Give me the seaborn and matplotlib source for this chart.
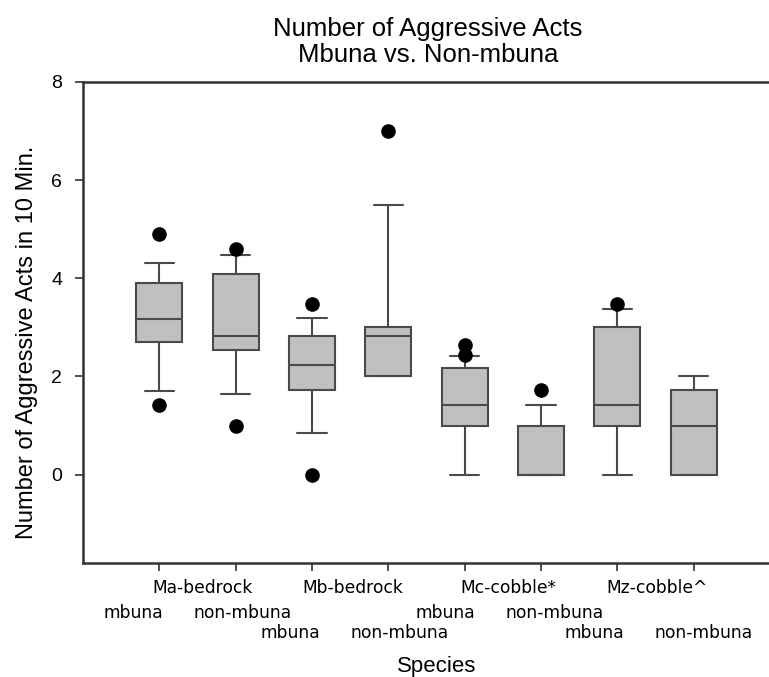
import pandas as pd
import seaborn as sns
import matplotlib
matplotlib.use('Agg')
import matplotlib.pyplot as plt

# 1. Data (aggressive acts per 10 min, per group; estimated from the figure)
groups = ['Ma-mbuna', 'Ma-non', 'Mb-mbuna', 'Mb-non',
          'Mc-mbuna', 'Mc-non', 'Mz-mbuna', 'Mz-non']

ma_mbuna = [1.41, 1.70, 2.60, 2.80, 3.00, 3.17, 3.50, 3.80, 4.00, 4.31, 4.91]
ma_non = [0.99, 1.65, 2.50, 2.58, 2.70, 2.83, 3.50, 4.00, 4.16, 4.48, 4.59]
mb_mbuna = [0.00, 0.84, 1.70, 1.76, 2.00, 2.24, 2.50, 2.80, 2.86, 3.19, 3.47]
mb_non = [2.00, 2.00, 2.00, 2.00, 2.50, 2.83, 2.90, 3.00, 3.00, 5.49, 7.00]
mc_mbuna = [0.00, 0.00, 0.00, 0.50, 0.80, 0.99, 1.10, 1.20, 1.30, 1.35, 1.41,
            1.60, 1.80, 1.90, 2.00, 2.17, 2.30, 2.40, 2.42, 2.44, 2.65]
mc_non = [0.00, 0.00, 0.00, 0.00, 0.00, 0.00, 0.50, 1.00, 1.00, 1.41, 1.73]
mz_mbuna = [0.00, 0.00, 0.98, 1.00, 1.20, 1.41, 2.00, 3.00, 3.00, 3.38, 3.48]
mz_non = [0.00, 0.00, 0.00, 0.00, 0.50, 1.00, 1.50, 1.70, 1.76, 2.00, 2.00]

values = [ma_mbuna, ma_non, mb_mbuna, mb_non, mc_mbuna, mc_non, mz_mbuna, mz_non]

species = ['Ma-bedrock', 'Mb-bedrock', 'Mc-cobble*', 'Mz-cobble^']
type_row1 = ['mbuna', 'non-mbuna', 'mbuna', 'non-mbuna']
type_row2 = ['mbuna', 'non-mbuna', 'mbuna', 'non-mbuna']

df = pd.DataFrame({
    'group': [g for g, v in zip(groups, values) for _ in v],
    'acts': [x for v in values for x in v],
})

# 2. Figure (SigmaPlot-like box plot: whiskers at 10th/90th percentile)
sns.set_style('white')
plt.rcParams['font.family'] = ['Liberation Sans', 'DejaVu Sans']
plt.rcParams['text.color'] = 'black'
plt.rcParams['axes.labelcolor'] = 'black'

fig = plt.figure(figsize=(7.69, 6.77), dpi=100)
ax = fig.add_axes([83 / 769, 114 / 677, 687 / 769, 481 / 677])

edge = '#4a4a4a'
sns.boxplot(data=df, x='group', y='acts', order=groups, ax=ax,
            whis=(10, 90), width=0.6, color='#c0c0c0', saturation=1,
            linecolor=edge, linewidth=1.5, capwidths=0.38,
            flierprops=dict(marker='o', markerfacecolor='black',
                            markeredgecolor='black', markersize=9.5))

ax.set_xlim(-1, 8)
ax.set_ylim(-1.8, 8)
ax.set_yticks([0, 2, 4, 6, 8])
ax.set_xticks(range(len(groups)))
ax.set_xticklabels([''] * len(groups))
ax.tick_params(axis='both', direction='out', length=6, width=1.2,
               color='#333333', labelsize=14, pad=9, labelcolor='black',
               bottom=True, left=True)
for s in ax.spines.values():
    s.set_color('#333333')
    s.set_linewidth(1.8)

# 3. Two-level category labels (species names between pairs, type below)
lab = dict(xycoords=('data', 'axes fraction'), textcoords='offset points',
           ha='center', va='baseline', fontsize=12.3, family='DejaVu Sans',
           color='black')
for name, x in zip(species, [0.57, 2.53, 4.57, 6.52]):
    ax.annotate(name, xy=(x, 0), xytext=(0, -21.8), **lab)
for name, x in zip(type_row1, [-0.34, 1.09, 3.74, 5.18]):
    ax.annotate(name, xy=(x, 0), xytext=(0, -39.8), **lab)
for name, x in zip(type_row2, [1.72, 3.15, 5.70, 7.13]):
    ax.annotate(name, xy=(x, 0), xytext=(0, -54.2), **lab)

ax.set_title('Number of Aggressive Acts\nMbuna vs. Non-mbuna',
             fontsize=18.5, pad=14.6, linespacing=1.1, x=0.502)
ax.set_xlabel('Species', fontsize=16)
ax.xaxis.label.set_va('baseline')
ax.xaxis.set_label_coords(0.515, -0.2266)
ax.set_ylabel('Number of Aggressive Acts in 10 Min.', fontsize=17)
ax.yaxis.set_label_coords(-0.065, 0.458)

plt.savefig('out.png', dpi=100)
